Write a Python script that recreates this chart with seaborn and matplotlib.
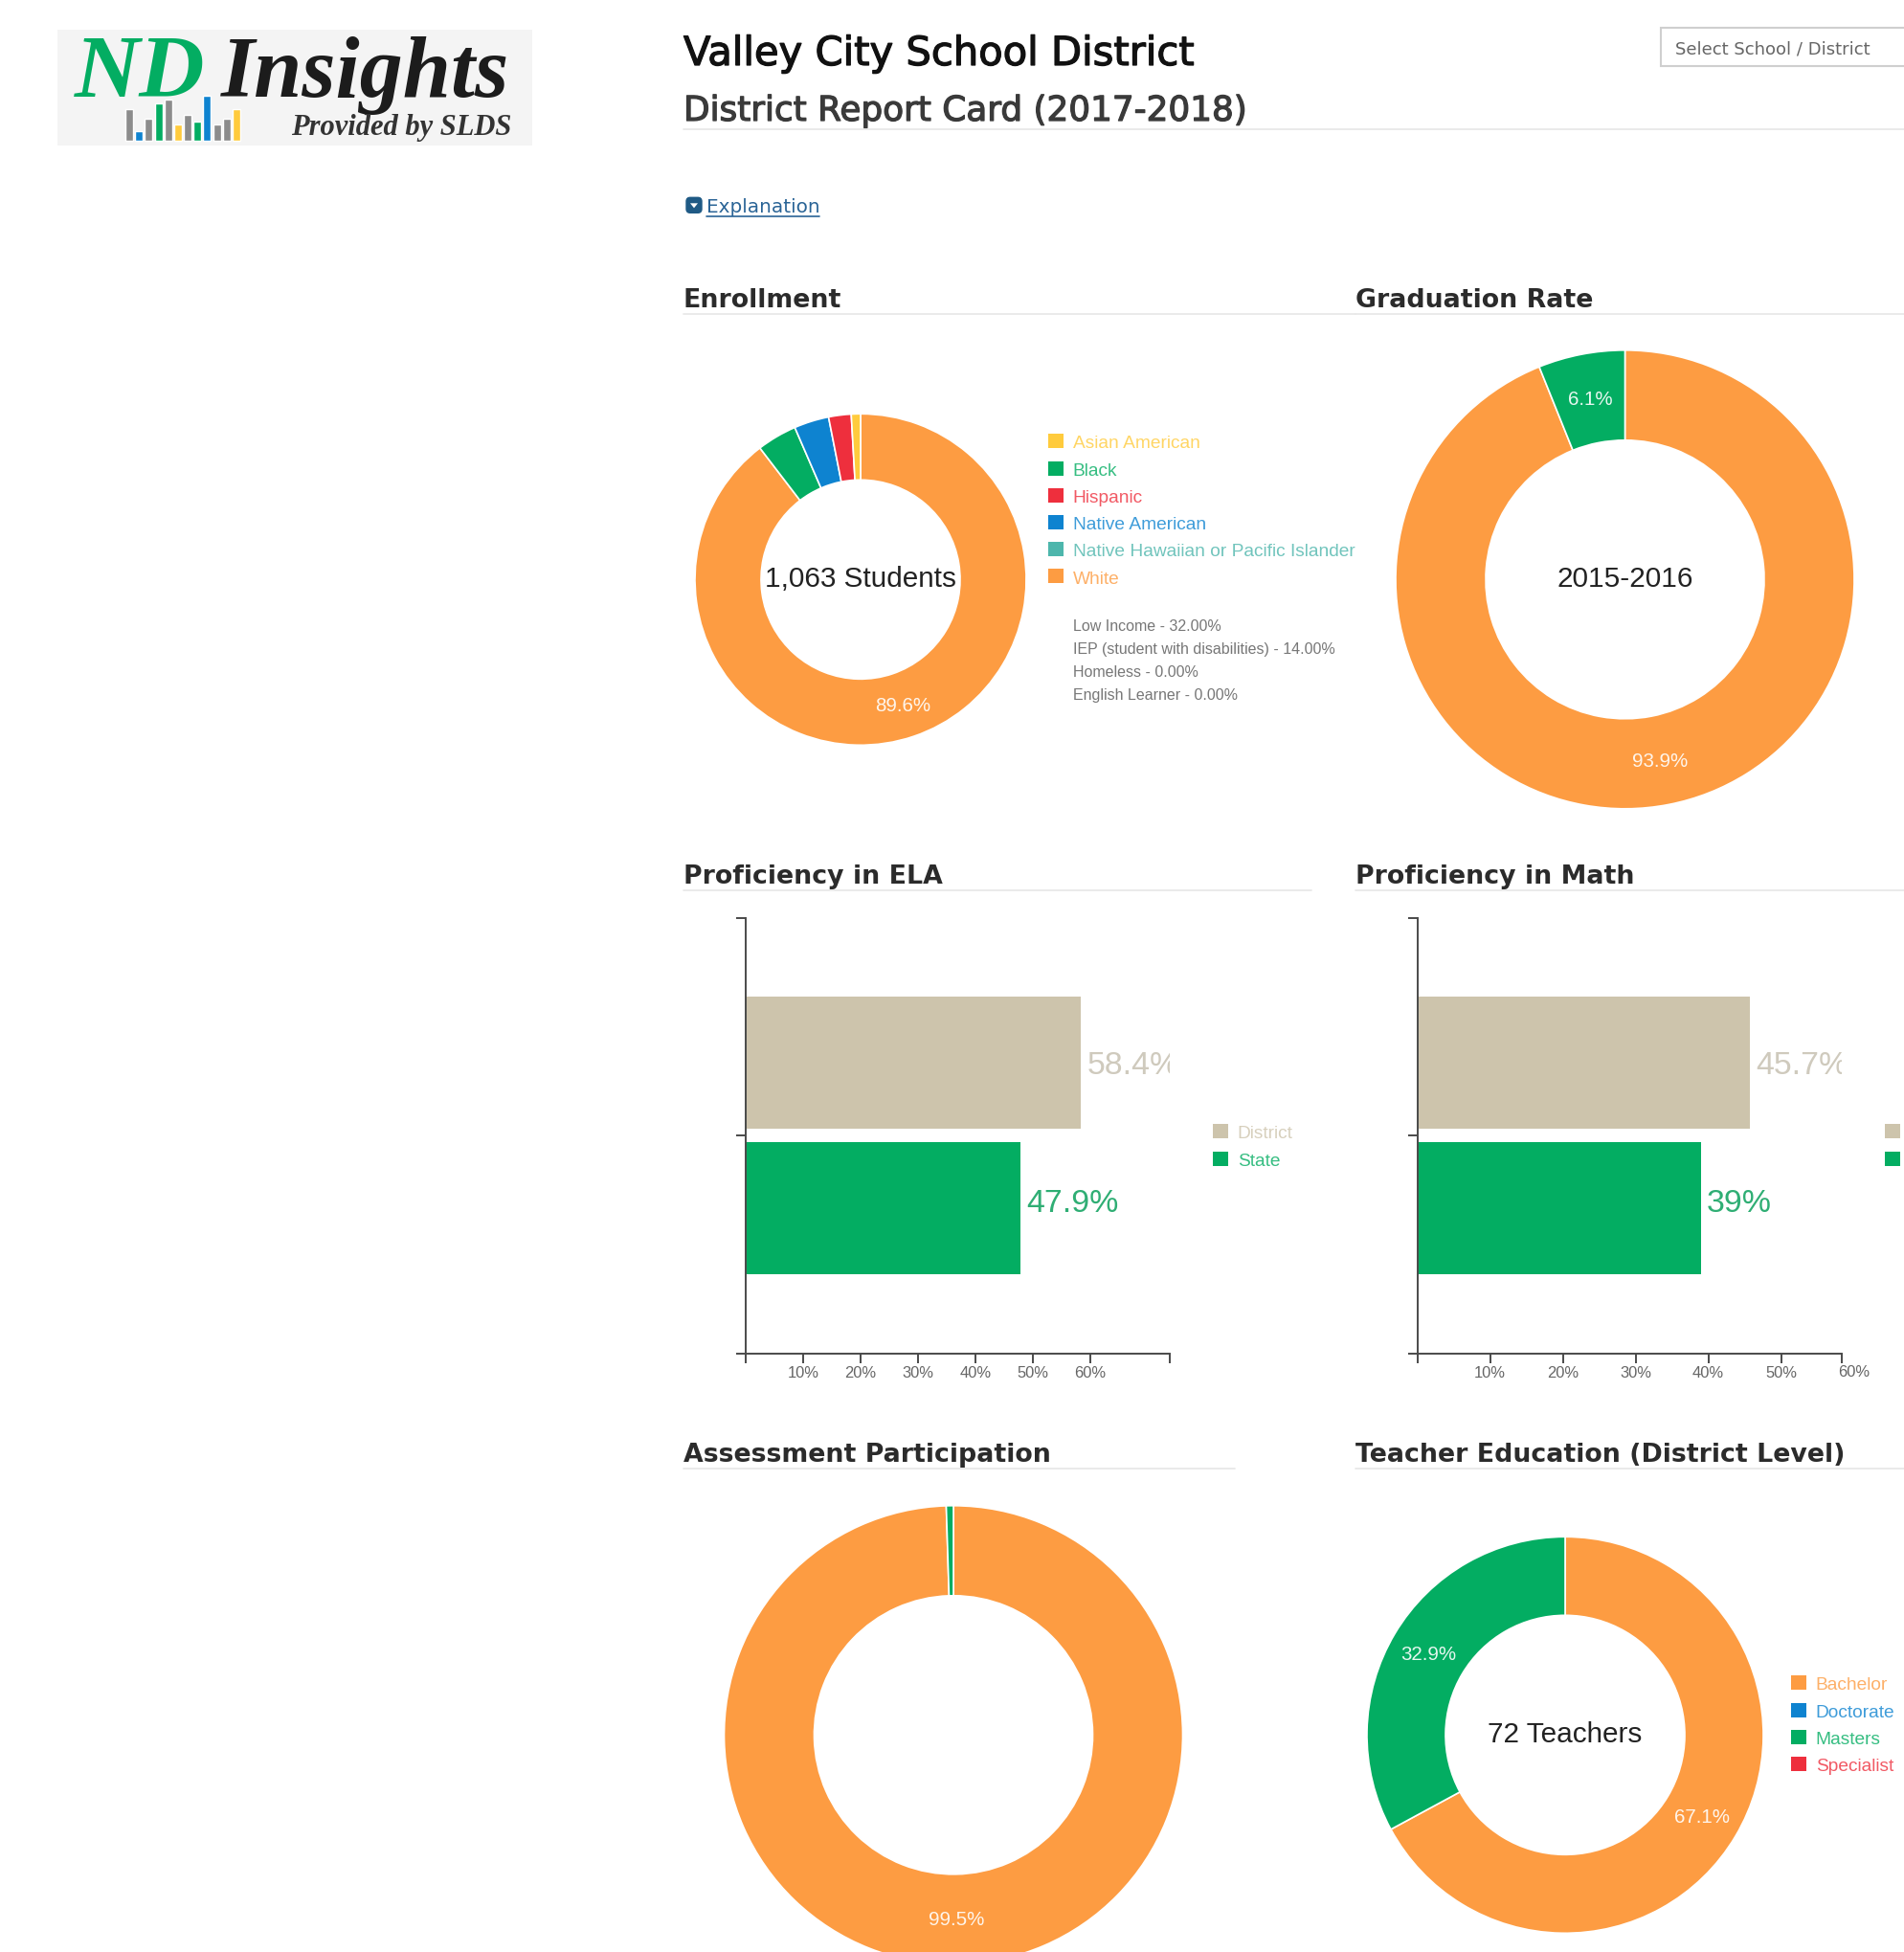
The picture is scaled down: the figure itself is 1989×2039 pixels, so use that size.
import matplotlib
matplotlib.use("Agg")
import matplotlib.pyplot as plt
import matplotlib.patheffects as pe
from matplotlib.patches import Patch, Rectangle, FancyBboxPatch, Polygon
from matplotlib.transforms import offset_copy
import pandas as pd
import seaborn as sns

ORANGE = "#FD9C42"
GREEN = "#03AD62"
RED = "#EE2F3D"
BLUE = "#0E83D0"
TEAL = "#4DB6AC"
YELLOW = "#FFCB3D"
TAN = "#CDC4AC"
GREY = "#8C8C8C"

# enrollment
enroll_slices = ["White", "Black", "Native American", "Hispanic", "Asian American"]
enroll_values = [89.6, 3.9, 3.4, 2.2, 0.9]
enroll_colors = [ORANGE, GREEN, BLUE, RED, YELLOW]
enroll_legend = ["Asian American", "Black", "Hispanic", "Native American",
                 "Native Hawaiian or Pacific Islander", "White"]
enroll_legend_colors = [YELLOW, GREEN, RED, BLUE, TEAL, ORANGE]
enroll_notes = ["Low Income - 32.00%", "IEP (student with disabilities) - 14.00%",
                "Homeless - 0.00%", "English Learner - 0.00%"]

# graduation, assessment
grad_values = [93.9, 6.1]
assess_values = [99.5, 0.5]

# teachers
teacher_values = [67.1, 32.9]
teacher_legend = ["Bachelor", "Doctorate", "Masters", "Specialist"]
teacher_legend_colors = [ORANGE, BLUE, GREEN, RED]

# proficiency
groups = ["District", "State"]
group_colors = [TAN, GREEN]
ela_values = [58.4, 47.9]
ela_labels = ["58.4%", "47.9%"]
math_values = [45.7, 39.0]
math_labels = ["45.7%", "39%"]

# little bars in the logo
logo_heights = [33, 10, 23, 39, 43, 17, 27, 20, 47, 17, 23, 33]
logo_colors = [GREY, BLUE, GREY, GREEN, GREY, YELLOW, GREY, GREEN, BLUE, GREY, GREY, YELLOW]

W, H = 1989, 2040
SHIFT = 1.3  # whole page sits a touch lower
sans = ["Liberation Sans", "DejaVu Sans"]

sns.set_theme(style="white")
plt.rcParams["font.family"] = sans
fig = plt.figure(figsize=(W / 100, H / 100), dpi=100, facecolor="white")

# whole page axes in pixels, for the page furniture
page = fig.add_axes([0, 0, 1, 1])
page.set_xlim(0, W)
page.set_ylim(H - SHIFT, -SHIFT)
page.axis("off")


def box(x0, y0, x1, y1):
    return fig.add_axes([x0 / W, 1 - (y1 + SHIFT) / H, (x1 - x0) / W, (y1 - y0) / H])


def heading(txt, x, y, x_end, size=19.3):
    page.text(x, y + 0.7, txt, family="DejaVu Sans", fontweight="bold", fontsize=size,
              color="#2b2b2b", va="center")
    page.plot([x, x_end], [y + 16, y + 16], color="#e6e6e6", lw=1.2)


def legend(labels, colors, x, y):
    handles = [Patch(facecolor=c, edgecolor="none") for c in colors]
    lg = page.legend(handles, labels, loc="upper left", bbox_to_anchor=(x, y),
                     bbox_transform=page.transData, frameon=False, fontsize=13.8,
                     handlelength=0.83, handleheight=0.83, handletextpad=0.52,
                     labelspacing=0.525, borderpad=0, borderaxespad=0)
    for t, c in zip(lg.get_texts(), colors):
        t.set_color(c)
        t.set_alpha(0.8)
    page.add_artist(lg)


def donut(values, colors, cx, cy, R, r, center=None):
    ax = box(cx - R, cy - R, cx + R, cy + R)
    ax.pie(
        values, colors=colors, startangle=90, counterclock=False, radius=1,
        wedgeprops=dict(width=1 - r / R, edgecolor="white", linewidth=1.2),
        autopct=lambda p: f"{p:.1f}%" if p > 5 else "",
        pctdistance=(1 + r / R) / 2,
        textprops=dict(color="white", fontsize=14.8, alpha=0.9),
    )
    ax.set_xlim(-1, 1)
    ax.set_ylim(-1, 1)
    ax.patch.set_alpha(0)
    if center:
        ax.text(0, 0.005, center, ha="center", va="center", fontsize=21.4, color="#222222")
    return ax


def bars(values, labels, x0, x1, xmax, xticks, xticklabels):
    df = pd.DataFrame({"group": groups, "value": values})
    ax = box(x0, 958.7, x1, 1414)
    sns.barplot(data=df, y="group", x="value", hue="group", hue_order=groups,
                palette=group_colors, saturation=1, width=0.905, legend=False,
                linewidth=0, ax=ax)
    ax.set_xlim(0, xmax)
    ax.set_ylim(1.997, -0.989)
    ax.set_xlabel("")
    ax.set_ylabel("")
    ax.set_yticks([-0.989, 0.5, 1.997], ["", "", ""])
    ax.set_xticks(xticks, xticklabels)
    ax.tick_params(axis="both", length=7, width=1.4, color="#4a4a4a", bottom=True, left=True)
    ax.tick_params(axis="x", labelsize=11.9, labelcolor="#666666", pad=1.5)
    sns.despine(ax=ax)
    for side in ["left", "bottom"]:
        ax.spines[side].set_color("#4a4a4a")
        ax.spines[side].set_linewidth(1.4)
    ax.patch.set_alpha(0)
    for i, (v, lab, c, dy) in enumerate(zip(values, labels, ["#CFCABD", "#2FAE74"], [-2.2, 4.5])):
        tr = offset_copy(ax.transData, fig=fig, x=4.5, y=dy, units="points")
        ax.text(v, i, lab, transform=tr, color=c, fontsize=24.4, va="center", ha="left", clip_on=True)
    return ax


# logo
page.add_patch(Rectangle((60, 31), 496, 121, facecolor="#F4F4F4", edgecolor="none"))
page.text(78, 100, "ND", family="Liberation Serif", fontweight="bold", fontstyle="italic",
          fontsize=68, color=GREEN, va="baseline")
page.text(231, 100, "Insights", family="Liberation Serif", fontweight="bold", fontstyle="italic",
          fontsize=65, color="#1c1c1c", va="baseline")
page.text(304, 140, "Provided by SLDS", family="Liberation Serif", fontweight="bold",
          fontstyle="italic", fontsize=22, color="#333333", va="baseline")
logo_ax = box(130, 95, 252, 149)
logo_ax.bar(range(len(logo_heights)), logo_heights, color=logo_colors, width=0.78)
logo_ax.set_xlim(-0.5, len(logo_heights) - 0.5)
logo_ax.set_ylim(-2, 52)
logo_ax.axis("off")

# title block
page.text(714, 55.7, "Valley City School District", family="DejaVu Sans", fontsize=30,
          color="#111111", va="center", path_effects=[pe.withStroke(linewidth=0.9, foreground="#111111")])
page.text(714, 115.7, "District Report Card (2017-2018)", family="DejaVu Sans", fontsize=25.8,
          color="#3a3a3a", va="center", path_effects=[pe.withStroke(linewidth=0.9, foreground="#3a3a3a")])
page.plot([714, W], [135, 135], color="#e6e6e6", lw=1.2)

page.add_patch(Rectangle((1735, 29), 300, 40, facecolor="white", edgecolor="#cfcfcf", lw=1.5))
page.text(1750, 50, "Select School / District", family="DejaVu Sans", fontsize=13,
          color="#666666", va="center")

page.add_patch(FancyBboxPatch((718, 207), 14, 14, boxstyle="round,pad=1,rounding_size=4",
                              facecolor="#1f5a85", edgecolor="#1f5a85"))
page.add_patch(Polygon([[721, 212], [729, 212], [725, 217]], facecolor="white", edgecolor="none"))
page.text(738, 215, "Explanation", family="DejaVu Sans", fontsize=14.4, color="#2a6496", va="center")
page.plot([738, 856], [226, 226], color="#2a6496", lw=1.2)

# section headings
heading("Enrollment", 714, 312, 1416)
heading("Graduation Rate", 1416, 312, W)
heading("Proficiency in ELA", 714, 914, 1370)
heading("Proficiency in Math", 1416, 914, W)
heading("Assessment Participation", 714, 1518, 1290)
heading("Teacher Education (District Level)", 1416, 1518, W)

# donuts
donut(enroll_values, enroll_colors, 899, 605, 173, 104, "1,063 Students")
donut(grad_values, [ORANGE, GREEN], 1697.5, 605, 239.5, 145.5, "2015-2016")
donut(assess_values, [ORANGE, GREEN], 996, 1812, 239.5, 145.5)
donut(teacher_values, [ORANGE, GREEN], 1635, 1812, 207, 125, "72 Teachers")

legend(enroll_legend, enroll_legend_colors, 1095, 453)
for i, note in enumerate(enroll_notes):
    page.text(1121, 653 + i * 24, note, fontsize=11.5, color="#777777", va="center")
legend(teacher_legend, teacher_legend_colors, 1871, 1750)

# bars
bars(ela_values, ela_labels, 779, 1222.4, 73.9,
     [0, 10, 20, 30, 40, 50, 60, 73.9], ["", "10%", "20%", "30%", "40%", "50%", "60%", ""])
legend(groups, group_colors, 1267, 1174)

math_ax = bars(math_values, math_labels, 1480.5, 1924.4, 58.4,
               [0, 10, 20, 30, 40, 50, 58.4], ["", "10%", "20%", "30%", "40%", "50%", ""])
math_ax.text(60, 1.997, "60%", fontsize=11.9, color="#666666", ha="center", va="top",
             transform=offset_copy(math_ax.transData, fig=fig, y=-7.8, units="points"), clip_on=False)
# legend text of this chart falls off the page in the reference, only the swatches show
legend(["", ""], group_colors, 1969, 1174)

fig.savefig("out.png", dpi=100)
